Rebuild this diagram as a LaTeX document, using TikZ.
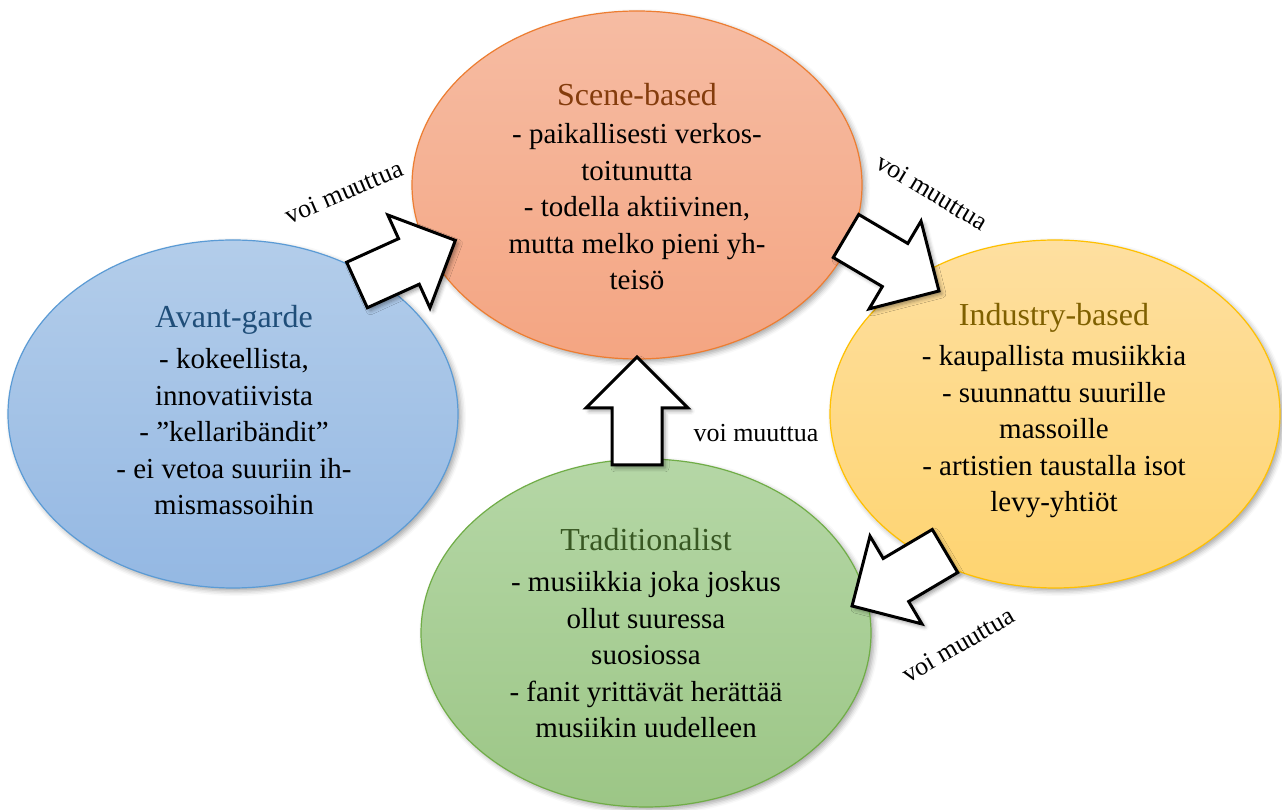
\documentclass[tikz,border=0pt]{standalone}
\usepackage{fontspec}
\setmainfont{Liberation Serif}
\usetikzlibrary{shapes.geometric,shadows.blur}
\definecolor{scenefillT}{HTML}{F6BCA3}
\definecolor{scenefillB}{HTML}{F4A582}
\definecolor{sceneline}{HTML}{ED7D31}
\definecolor{scenetext}{HTML}{843C0C}
\definecolor{avantfillT}{HTML}{B3CDEA}
\definecolor{avantfillB}{HTML}{94B8E3}
\definecolor{avantline}{HTML}{5B9BD5}
\definecolor{avanttext}{HTML}{1F4E79}
\definecolor{indfillT}{HTML}{FEDFA0}
\definecolor{indfillB}{HTML}{FED470}
\definecolor{indline}{HTML}{FFC000}
\definecolor{indtext}{HTML}{7F6000}
\definecolor{tradfillT}{HTML}{B5D7A6}
\definecolor{tradfillB}{HTML}{9CC686}
\definecolor{tradline}{HTML}{70AD47}
\definecolor{tradtext}{HTML}{385723}
\tikzset{
  blob/.style={ellipse, minimum width=450pt, minimum height=348pt, line width=1.2pt,
    blur shadow={shadow xshift=3pt, shadow yshift=-3pt, shadow blur radius=5pt, shadow opacity=35}},
  ttl/.style={font=\fontsize{32}{36}\selectfont},
  body/.style={font=\fontsize{29}{36.5}\selectfont, align=center, text=black},
  lbl/.style={font=\fontsize{26}{30}\selectfont, text=black},
  barrow/.style={draw=black, line width=3pt, fill=white, line join=miter,
    blur shadow={shadow xshift=3pt, shadow yshift=-3pt, shadow blur radius=4pt, shadow opacity=40}},
}
\newcommand{\blockarrowpath}{(0,-25) -- (57,-25) -- (57,-51) -- (108,0) -- (57,51) -- (57,25) -- (0,25) -- cycle}
\begin{document}
\begin{tikzpicture}[x=1pt,y=1pt]
\useasboundingbox (0,0) rectangle (1282,810);
% ellipses
\node[blob, draw=sceneline, top color=scenefillT, bottom color=scenefillB] (scene) at (637,625) {};
\node[blob, draw=avantline, top color=avantfillT, bottom color=avantfillB] (avant) at (233,396) {};
\node[blob, draw=indline, top color=indfillT, bottom color=indfillB] (ind) at (1055,396) {};
\node[blob, draw=tradline, top color=tradfillT, bottom color=tradfillB] (trad) at (646,177) {};
% titles
\node[ttl, text=scenetext] (sceneT) at (637,715) {Scene-based};
\node[ttl, text=avanttext] (avantT) at (234,490) {Avant-garde};
\node[ttl, text=indtext] (indT) at (1054,492) {Industry-based};
\node[ttl, text=tradtext] (tradT) at (646,270) {Traditionalist};
% bodies
\node[body] (sceneB) at (637,603) {- paikallisesti verkos-\\toitunutta\\- todella aktiivinen,\\mutta melko pieni yh-\\teisö};
\node[body] (avantB) at (234,378) {- kokeellista,\\innovatiivista\\- ”kellaribändit”\\- ei vetoa suuriin ih-\\mismassoihin};
\node[body] (indB) at (1054,378) {- kaupallista musiikkia\\- suunnattu suurille\\massoille\\- artistien taustalla isot\\levy-yhtiöt};
\node[body] (tradB) at (646,155) {- musiikkia joka joskus\\ollut suuressa\\suosiossa\\- fanit yrittävät herättää\\musiikin uudelleen};
% block arrows
\path[barrow, shift={(357,525)}, rotate=24.4] \blockarrowpath;
\path[barrow, shift={(846,574)}, rotate=-30.6] \blockarrowpath;
\path[barrow, shift={(637,345)}, rotate=90] \blockarrowpath;
\path[barrow, shift={(945,259)}, rotate=210.6] \blockarrowpath;
% labels
\node[lbl, rotate=23] (l1) at (344,618) {voi muuttua};
\node[lbl, rotate=-31] (l2) at (932,618) {voi muuttua};
\node[lbl] (l3) at (756,377) {voi muuttua};
\node[lbl, rotate=30] (l4) at (958,165) {voi muuttua};
\end{tikzpicture}
\end{document}
